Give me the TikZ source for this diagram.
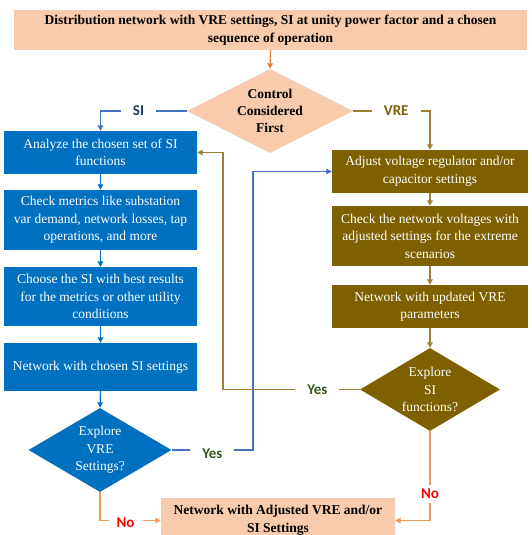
\documentclass[tikz,border=0pt]{standalone}
\usepackage{fontspec}
\setmainfont{Liberation Serif}
\newfontfamily\lblfont{Carlito}
\usetikzlibrary{shapes.geometric,arrows.meta}
\definecolor{peach}{HTML}{F8CBAD}
\definecolor{sibox}{HTML}{0070C0}
\definecolor{vrebox}{HTML}{7F6000}
\definecolor{siline}{HTML}{4472C4}
\definecolor{vreline}{HTML}{A08030}
\definecolor{orangeline}{HTML}{F19955}
\definecolor{toparrow}{HTML}{ED7D31}
\definecolor{silbl}{HTML}{1F3864}
\definecolor{yesgreen}{HTML}{385723}
\definecolor{nored}{HTML}{FF0000}
\begin{document}
\begin{tikzpicture}[x=1pt,y=-1pt,
  txt/.style={font=\fontsize{13.5}{17.5}\selectfont, align=center},
  boxbase/.style={rectangle, inner sep=0pt, txt},
  bluebox/.style={boxbase, fill=sibox, text=white, minimum width=193pt},
  brownbox/.style={boxbase, fill=vrebox, text=white, minimum width=196pt},
  peachbox/.style={boxbase, fill=peach, text=black, font=\bfseries\fontsize{13.5}{18}\selectfont},
  dia/.style={diamond, inner sep=0pt, minimum width=#1},
  lbl/.style={fill=white, inner xsep=12pt, inner ysep=4pt, font=\lblfont\bfseries\fontsize{15}{15}\selectfont},
  tipline/.style={-{Triangle[length=5.5pt,width=5.5pt]}, line width=1.2pt},
]
\useasboundingbox (0,0) rectangle (531,535);

% boxes
\node[peachbox, minimum width=513pt, minimum height=40pt] (top) at (270.5,30)
  {Distribution network with VRE settings, SI at unity power factor and a chosen\\sequence of operation};

\node[dia=166pt, minimum height=84pt, fill=peach,
  label={[txt, font=\bfseries\fontsize{13.5}{17}\selectfont]center:Control\\Considered\\First}] (d1) at (270,111) {};

\node[bluebox, minimum height=43pt] (b1) at (100.5,152.5) {Analyze the chosen set of SI\\functions};
\node[bluebox, minimum height=60pt] (b2) at (100.5,220) {Check metrics like substation\\var demand, network losses, tap\\operations, and more};
\node[bluebox, minimum height=59pt] (b3) at (100.5,296.5) {Choose the SI with best results\\for the metrics or other utility\\conditions};
\node[bluebox, minimum height=48pt] (b4) at (100.5,367) {Network with chosen SI settings};
\node[dia=143pt, minimum height=84pt, fill=sibox,
  label={[txt, text=white]center:Explore\\VRE\\Settings?}] (d2) at (100,450) {};

\node[brownbox, minimum height=43pt] (r1) at (430,171.5) {Adjust voltage regulator and/or\\capacitor settings};
\node[brownbox, minimum height=60pt] (r2) at (430,236) {Check the network voltages with\\adjusted settings for the extreme\\scenarios};
\node[brownbox, minimum height=43pt] (r3) at (430,306.5) {Network with updated VRE\\parameters};
\node[dia=140pt, minimum height=83pt, fill=vrebox,
  label={[txt, text=white]center:Explore\\SI\\functions?}] (d3) at (430,389.5) {};

\node[peachbox, minimum width=234pt, minimum height=45pt] (bot) at (278,520.5)
  {Network with Adjusted VRE and/or\\SI Settings};

% connectors
\draw[tipline, toparrow] (top.south) -- (d1.north);

\draw[tipline, siline] (d1.west) -| node[lbl, pos=0.28, text=silbl]{SI} (b1.north);
\draw[tipline, vreline] (d1.east) -| node[lbl, pos=0.28, text=vrebox]{VRE} (r1.north);

\draw[tipline, sibox] (b1.south) -- (b2.north);
\draw[tipline, sibox] (b2.south) -- (b3.north);
\draw[tipline, sibox] (b3.south) -- (b4.north);
\draw[tipline, sibox] (b4.south) -- (d2.north);

\draw[tipline, vreline] (r1.south) -- (r2.north);
\draw[tipline, vreline] (r2.south) -- (r3.north);
\draw[tipline, vreline] (r3.south) -- (d3.north);

\coordinate (by) at (253,450);
\coordinate (vy) at (223,389.5);
\draw[tipline, siline] (d2.east) -- node[lbl, pos=0.5, yshift=-4pt, text=yesgreen]{Yes} (by) |- (r1.west);
\draw[tipline, vreline] (d3.west) -- node[lbl, pos=0.31, text=yesgreen]{Yes} (vy) |- (b1.east);

\draw[tipline, orangeline] (d2.south) |- node[lbl, inner xsep=8pt, pos=0.71, yshift=-2pt, text=nored]{No} (bot.west);
\draw[tipline, orangeline] (d3.south) |- node[lbl, pos=0.35, text=nored]{No} (bot.east);
\end{tikzpicture}
\end{document}
